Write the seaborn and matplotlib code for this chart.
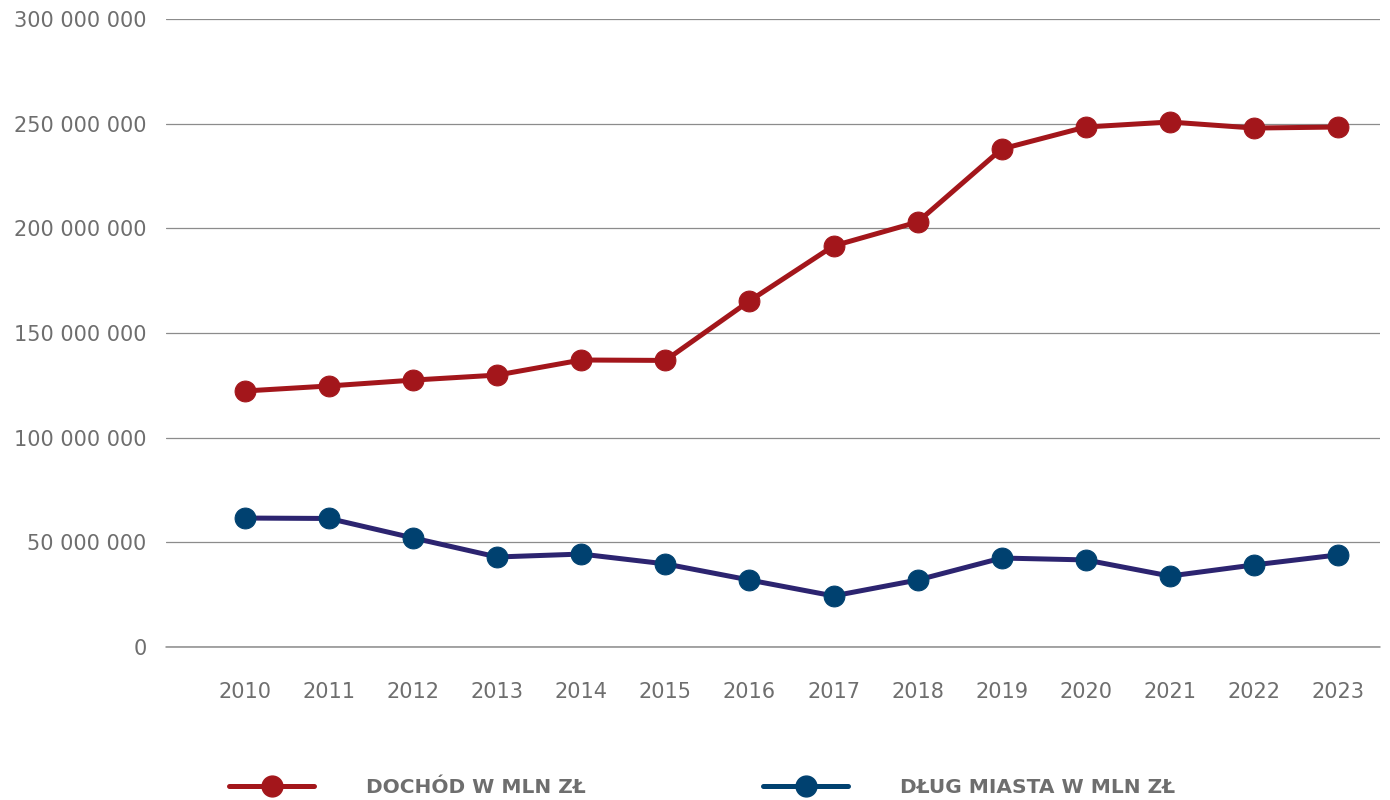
import matplotlib
matplotlib.use("Agg")
import matplotlib.pyplot as plt
import seaborn as sns
from matplotlib.lines import Line2D
from matplotlib.ticker import FuncFormatter

years = [2010, 2011, 2012, 2013, 2014, 2015, 2016, 2017, 2018, 2019, 2020, 2021, 2022, 2023]
dochod = [122.3, 124.7, 127.5, 129.9, 137.1, 136.9, 165.3, 191.6, 203.0, 237.9, 248.4, 250.8, 247.9, 248.4]
dlug = [61.6, 61.4, 52.1, 43.0, 44.4, 39.7, 32.0, 24.4, 32.0, 42.5, 41.6, 33.9, 39.2, 44.0]
dochod = [v * 1e6 for v in dochod]
dlug = [v * 1e6 for v in dlug]
labels = ["DOCHÓD W MLN ZŁ", "DŁUG MIASTA W MLN ZŁ"]

red = "#a3161b"
blue_line = "#2c2470"
blue_mark = "#004170"
grey_text = "#6e6e6e"

sns.set_style("white")
plt.rcParams["font.family"] = ["DejaVu Sans"]

fig = plt.figure(figsize=(13.9, 8), dpi=100)
ax = fig.add_axes([0.1194, 0.19125, 0.8734, 0.785])

sns.lineplot(x=years, y=dochod, ax=ax, color=red, linewidth=3.6, marker="o",
             markersize=15, markerfacecolor=red, markeredgecolor=red)
sns.lineplot(x=years, y=dlug, ax=ax, color=blue_line, linewidth=3.6, marker="o",
             markersize=15, markerfacecolor=blue_mark, markeredgecolor=blue_mark)

ax.set_xlim(2009.06, 2023.5)
ax.set_ylim(0, 300e6)
ax.set_xticks(years)
ax.set_yticks(range(0, 300000001, 50000000))
ax.yaxis.set_major_formatter(FuncFormatter(lambda v, p: f"{int(v):,}".replace(",", " ")))
ax.grid(axis="y", color="#8c8c8c", linewidth=0.9)
ax.axhline(0, color="#8c8c8c", linewidth=1.1, clip_on=False, zorder=0.5)
ax.set_axisbelow(True)
for s in ax.spines.values():
    s.set_visible(False)
ax.tick_params(axis="both", length=0, labelsize=15, labelcolor=grey_text)
ax.tick_params(axis="y", pad=14)
ax.tick_params(axis="x", pad=25)

handles = [
    Line2D([], [], color=red, linewidth=3.6, marker="o", markersize=15,
           markerfacecolor=red, markeredgecolor=red),
    Line2D([], [], color=blue_mark, linewidth=3.6, marker="o", markersize=15,
           markerfacecolor=blue_mark, markeredgecolor=blue_mark),
]
leg = fig.legend(handles, labels, loc="center left", bbox_to_anchor=(0.152, 0.016),
                 ncol=2, frameon=False, handlelength=4.2, handletextpad=2.6,
                 columnspacing=8.8, prop={"weight": "bold", "size": 14.5})
for t in leg.get_texts():
    t.set_color(grey_text)

fig.savefig("out.png", dpi=100)
